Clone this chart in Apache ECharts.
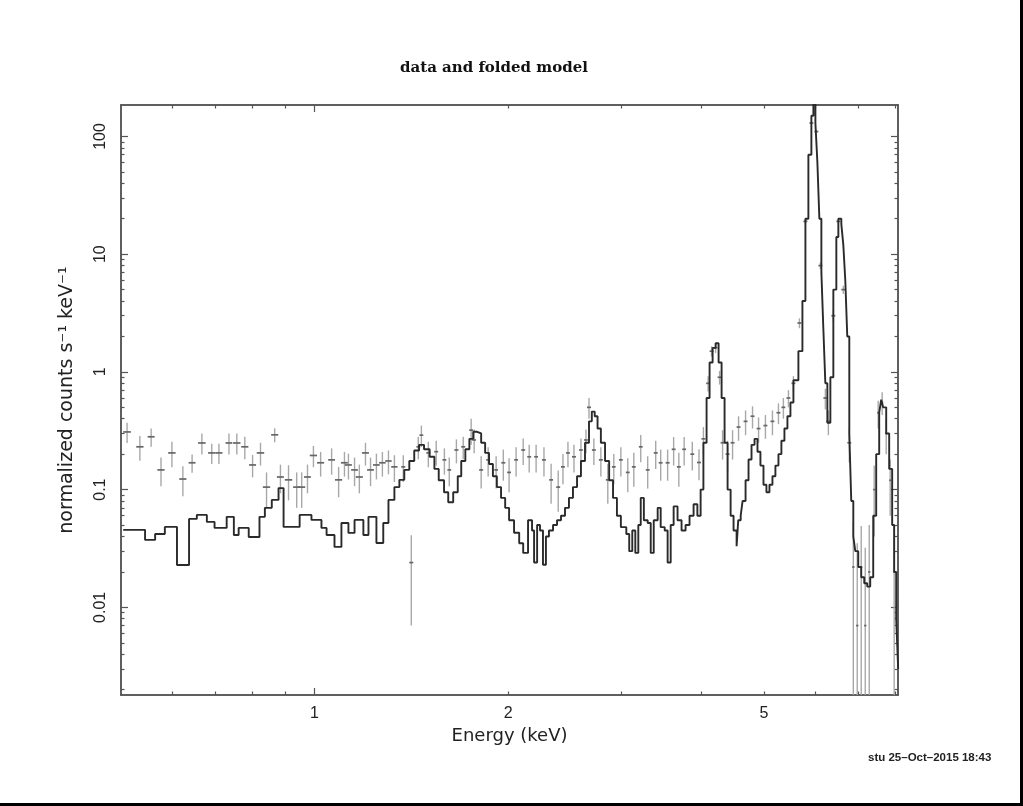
<!DOCTYPE html>
<html>
<head>
<meta charset="utf-8">
<script src="https://cdn.jsdelivr.net/npm/echarts@6/dist/echarts.min.js"></script>
<style>
html,body{margin:0;padding:0;background:#fff;}
#chart{width:1023px;height:806px;}
</style>
</head>
<body>
<div id="chart"></div>
<script>
// ---- axis ranges and tick labels ----
const X_MIN = 0.5, X_MAX = 8.08;
const Y_MIN = 0.0018, Y_MAX = 185;
const xLabelValues = [1, 2, 5];
const xMajorTicks = [1];
const xMinorTicks = [0.6, 0.7, 0.8, 0.9, 2, 3, 4, 5, 6, 7, 8];
const yLabelValues = [0.01, 0.1, 1, 10, 100];
const yDecades = [0.001, 0.01, 0.1, 1, 10, 100];
const yMinorMultipliers = [2, 3, 4, 5, 6, 7, 8, 9];

// ---- data points (energy keV, half bin width, rate, 1-sigma error) ----
const dataEnergy = [
 0.511,0.535,0.557,0.577,0.600,0.624,0.645,0.668,0.692,0.710,0.736,0.757,0.779,0.801,0.824,0.842,0.867,0.885,
 0.911,0.938,0.955,0.975,0.996,1.022,1.063,1.090,1.113,1.129,1.154,1.174,1.200,1.222,1.248,1.275,1.303,1.331,
 1.374,1.414,1.450,1.466,1.503,1.546,1.592,1.620,1.662,1.703,1.752,1.771,1.816,1.862,1.916,1.966,2.007,2.058,
 2.111,2.157,2.211,2.274,2.333,2.393,2.434,2.478,2.532,2.596,2.643,2.672,2.719,2.788,2.858,2.920,2.995,3.070,
 3.137,3.216,3.297,3.393,3.454,3.541,3.618,3.686,3.757,3.868,3.962,4.025,4.093,4.145,4.205,4.265,4.311,4.389,
 4.468,4.565,4.681,4.799,4.904,5.026,5.154,5.266,5.360,5.458,5.556,5.677,5.800,5.925,6.032,6.119,6.229,6.297,
 6.410,6.526,6.643,6.787,6.885,6.983,7.083,7.186,7.289,7.420,7.527,7.635,7.746,7.857,7.970
];
const dataHalfWidth = [
 0.007,0.007,0.007,0.0075,0.008,0.008,0.008,0.009,0.009,0.009,0.009,0.010,0.010,0.010,0.011,0.011,0.011,0.011,
 0.012,0.012,0.012,0.012,0.013,0.013,0.013,0.014,0.014,0.014,0.014,0.015,0.015,0.015,0.015,0.015,0.015,0.015,
 0.010,0.010,0.010,0.010,0.011,0.011,0.011,0.011,0.012,0.012,0.012,0.012,0.013,0.013,0.013,0.014,0.014,0.014,
 0.015,0.015,0.015,0.016,0.016,0.017,0.017,0.017,0.018,0.018,0.018,0.019,0.019,0.020,0.020,0.020,0.021,0.021,
 0.022,0.022,0.023,0.024,0.024,0.025,0.025,0.026,0.026,0.027,0.028,0.028,0.028,0.029,0.029,0.030,0.030,0.031,
 0.031,0.032,0.033,0.034,0.034,0.035,0.036,0.037,0.037,0.038,0.039,0.040,0.041,0.041,0.042,0.043,0.044,0.044,
 0.045,0.046,0.047,0.048,0.030,0.030,0.030,0.030,0.030,0.030,0.030,0.030,0.030,0.030,0.030
];
const dataRate = [
 0.309,0.231,0.281,0.147,0.205,0.123,0.169,0.249,0.205,0.205,0.249,0.249,0.231,0.162,0.205,0.105,0.292,0.128,
 0.121,0.105,0.105,0.128,0.195,0.169,0.179,0.121,0.169,0.162,0.147,0.128,0.205,0.147,0.162,0.169,0.175,0.156,
 0.156,0.024,0.231,0.290,0.205,0.210,0.179,0.147,0.217,0.231,0.320,0.264,0.147,0.179,0.147,0.169,0.140,0.179,
 0.217,0.190,0.190,0.179,0.121,0.105,0.156,0.205,0.190,0.217,0.264,0.500,0.217,0.179,0.121,0.156,0.179,0.140,
 0.156,0.231,0.147,0.205,0.169,0.169,0.220,0.156,0.220,0.200,0.170,0.270,0.800,1.500,1.600,0.900,0.250,0.200,
 0.250,0.340,0.380,0.420,0.330,0.350,0.380,0.450,0.500,0.600,0.800,2.600,19.0,130.0,110.0,8.0,0.600,0.380,
 3.0,19.0,5.0,0.250,0.022,0.007,0.022,0.007,0.020,0.100,0.450,0.550,0.300,0.120,0.020
];
const dataError = [
 0.060,0.055,0.050,0.040,0.050,0.035,0.030,0.050,0.040,0.040,0.050,0.050,0.050,0.035,0.045,0.035,0.040,0.035,
 0.040,0.035,0.035,0.035,0.040,0.040,0.045,0.035,0.040,0.040,0.040,0.035,0.045,0.040,0.040,0.040,0.040,0.040,
 0.040,0.017,0.050,0.060,0.050,0.050,0.045,0.040,0.050,0.050,0.080,0.060,0.045,0.050,0.045,0.050,0.045,0.050,
 0.055,0.050,0.050,0.050,0.045,0.040,0.045,0.050,0.050,0.055,0.060,0.100,0.055,0.050,0.045,0.045,0.050,0.045,
 0.050,0.060,0.045,0.055,0.050,0.050,0.060,0.050,0.060,0.055,0.050,0.070,0.120,0.150,0.150,0.120,0.070,0.060,
 0.070,0.080,0.090,0.090,0.080,0.080,0.090,0.090,0.100,0.100,0.120,0.250,0.800,3.0,3.0,0.500,0.120,0.090,
 0.300,0.800,0.400,0.080,0.030,0.028,0.027,0.025,0.030,0.060,0.120,0.120,0.100,0.060,0.030
];

// ---- folded model (bin lower edge keV, rate; last entry = upper edge) ----
const modelEnergy = [
 0.504,0.545,0.565,0.585,0.611,0.638,0.656,0.680,0.699,0.730,0.749,0.762,0.790,0.821,0.837,0.858,0.879,0.895,
 0.948,0.989,1.025,1.044,1.074,1.101,1.129,1.154,1.191,1.213,1.248,1.279,1.303,1.331,1.355,1.379,1.404,1.429,
 1.454,1.480,1.510,1.536,1.560,1.590,1.614,1.643,1.670,1.691,1.716,1.741,1.765,1.790,1.816,1.842,1.868,1.894,
 1.921,1.950,1.979,2.007,2.043,2.081,2.111,2.148,2.179,2.195,2.219,2.242,2.266,2.290,2.315,2.349,2.383,2.417,
 2.452,2.487,2.523,2.560,2.596,2.634,2.672,2.699,2.727,2.755,2.788,2.830,2.872,2.912,2.953,2.995,3.054,3.086,
 3.120,3.154,3.188,3.216,3.252,3.297,3.333,3.369,3.417,3.454,3.504,3.541,3.580,3.618,3.669,3.722,3.776,3.830,
 3.886,3.939,3.985,4.025,4.071,4.115,4.160,4.205,4.250,4.296,4.342,4.389,4.437,4.484,4.533,4.560,4.600,4.631,
 4.681,4.731,4.782,4.834,4.885,4.937,4.991,5.044,5.099,5.154,5.209,5.266,5.322,5.380,5.438,5.497,5.556,5.656,
 5.738,5.800,5.862,5.925,5.968,6.011,6.054,6.097,6.141,6.185,6.229,6.274,6.342,6.410,6.479,6.526,6.596,6.643,
 6.690,6.738,6.787,6.835,6.885,6.934,7.008,7.083,7.160,7.237,7.315,7.394,7.473,7.554,7.608,7.662,7.746,7.829,
 7.913,7.970,8.028,8.085
];
const modelRate = [
 0.0455,0.0374,0.0420,0.0482,0.0229,0.0564,0.0610,0.0532,0.0473,0.0587,0.0412,0.0473,0.0396,0.0587,0.0700,0.0818,0.1030,0.0482,
 0.0610,0.0553,0.0473,0.0412,0.0326,0.0521,0.0429,0.0553,0.0412,0.0587,0.0352,0.0521,0.0818,0.1050,0.1210,0.1470,0.1750,0.2150,
 0.2400,0.2200,0.1900,0.1500,0.1200,0.0950,0.0780,0.0950,0.1300,0.1750,0.2200,0.2700,0.3100,0.3000,0.2500,0.2050,0.1650,0.1300,
 0.1050,0.0850,0.0700,0.0550,0.0430,0.0350,0.0290,0.0550,0.0450,0.0240,0.0500,0.0450,0.0230,0.0400,0.0450,0.0500,0.0550,0.0600,
 0.0700,0.0850,0.1050,0.1300,0.1750,0.2500,0.3800,0.4600,0.4200,0.3300,0.2500,0.1750,0.1200,0.0850,0.0600,0.0480,0.0420,0.0300,
 0.0450,0.0290,0.0500,0.0850,0.0550,0.0520,0.0290,0.0550,0.0700,0.0480,0.0450,0.0240,0.0500,0.0720,0.0550,0.0450,0.0500,0.0600,
 0.0750,0.0600,0.1000,0.2500,0.6000,1.2000,1.6000,1.7500,1.2000,0.6000,0.2500,0.1000,0.0600,0.0450,0.0330,0.0550,0.0600,0.0800,
 0.1200,0.1800,0.2400,0.2700,0.2100,0.1600,0.1100,0.0950,0.1100,0.1300,0.1600,0.2000,0.2600,0.3300,0.4200,0.5500,0.8500,1.5000,
 4.0,20.0,70.0,150.0,200.0,130.0,60.0,20.0,7.0,2.3,0.80,0.37,0.90,5.0,14.0,20.0,18.0,12.0,
 6.0,2.0,0.30,0.080,0.040,0.030,0.022,0.018,0.016,0.015,0.018,0.060,0.200,0.450,0.580,0.500,0.300,0.150,
 0.050,0.020,0.008,0.003
];

// ---- build option ----
const yMinorTicks = [];
yDecades.forEach(d => yMinorMultipliers.forEach(m => {
  const v = +(d * m).toPrecision(6);
  if (v > Y_MIN && v < Y_MAX) yMinorTicks.push(v);
}));
const yMajorTicks = yLabelValues.slice();

const FRAME = '#555';
const FONT = '"Liberation Sans", Arial, sans-serif';
const NAME_FONT = '"DejaVu Sans", "Liberation Sans", sans-serif';

function xAxisDef(position, ticks, len, withLabels) {
  return {
    type: 'log', logBase: 10, min: X_MIN, max: X_MAX, position: position,
    axisLine: { show: true, onZero: false, lineStyle: { color: FRAME, width: 1.5 } },
    axisTick: { show: true, inside: true, length: len, customValues: ticks, lineStyle: { color: FRAME, width: 1.2 } },
    axisLabel: withLabels ? {
      show: true, customValues: xLabelValues, margin: 11,
      fontSize: 16, fontFamily: FONT, color: '#222',
      formatter: v => String(+(+v).toPrecision(6))
    } : { show: false },
    splitLine: { show: false }, minorTick: { show: false },
    name: withLabels ? 'Energy (keV)' : '',
    nameLocation: 'middle', nameGap: 32,
    nameTextStyle: { fontSize: 18, fontFamily: NAME_FONT, color: '#222' }
  };
}
function yAxisDef(position, ticks, len, withLabels) {
  return {
    type: 'log', logBase: 10, min: Y_MIN, max: Y_MAX, position: position,
    axisLine: { show: true, onZero: false, lineStyle: { color: FRAME, width: 1.5 } },
    axisTick: { show: true, inside: true, length: len, customValues: ticks, lineStyle: { color: FRAME, width: 1.2 } },
    axisLabel: withLabels ? {
      show: true, customValues: yLabelValues, margin: 12, rotate: 90,
      fontSize: 16, fontFamily: FONT, color: '#222',
      formatter: v => String(+(+v).toPrecision(6))
    } : { show: false },
    splitLine: { show: false }, minorTick: { show: false },
    name: withLabels ? 'normalized counts s\u207B\u00B9 keV\u207B\u00B9' : '',
    nameLocation: 'middle', nameGap: 44, nameRotate: 90,
    nameTextStyle: { fontSize: 19, fontFamily: NAME_FONT, color: '#222' }
  };
}

const pointData = dataEnergy.map((e, i) => [e, dataHalfWidth[i], dataRate[i], dataError[i]]);
const modelData = modelEnergy.map((e, i) => [e, modelRate[i]]);

const option = {
  animation: false,
  backgroundColor: '#fff',
  grid: { left: 121, right: 125, top: 105, bottom: 111, containLabel: false, outerBoundsMode: 'none' },
  xAxis: [
    xAxisDef('bottom', xMajorTicks, 7, true),
    xAxisDef('bottom', xMinorTicks, 3.5, false),
    xAxisDef('top', xMajorTicks, 7, false),
    xAxisDef('top', xMinorTicks, 3.5, false)
  ],
  yAxis: [
    yAxisDef('left', yMajorTicks, 7, true),
    yAxisDef('left', yMinorTicks, 3.5, false),
    yAxisDef('right', yMajorTicks, 7, false),
    yAxisDef('right', yMinorTicks, 3.5, false)
  ],
  graphic: [
    { type: 'text', left: 400, top: 61, style: { text: 'data and folded model', font: 'bold 15px "DejaVu Serif", serif', fill: '#111' } },
    { type: 'text', left: 868, top: 752, style: { text: 'stu 25\u2013Oct\u20132015 18:43', font: 'bold 11.5px "Liberation Sans", Arial, sans-serif', fill: '#222' } },
    { type: 'rect', shape: { x: 1020, y: 0, width: 3, height: 806 }, style: { fill: '#000' } },
    { type: 'rect', shape: { x: 0, y: 803, width: 1023, height: 3 }, style: { fill: '#000' } }
  ],
  series: [
    {
      type: 'custom', name: 'data', xAxisIndex: 0, yAxisIndex: 0, clip: true, z: 2,
      encode: { x: 0, y: 2 },
      data: pointData,
      renderItem: function (params, api) {
        const e = api.value(0), de = api.value(1), v = api.value(2), dv = api.value(3);
        const lo = Math.max(v - dv, Y_MIN * 0.05);
        const pT = api.coord([e, v + dv]);
        const pB = api.coord([e, lo]);
        const pL = api.coord([e - de, v]);
        const pR = api.coord([e + de, v]);
        return {
          type: 'group',
          children: [
            { type: 'line', shape: { x1: pT[0], y1: pT[1], x2: pB[0], y2: pB[1] }, style: { stroke: '#a8a8a8', lineWidth: 1.4 } },
            { type: 'line', shape: { x1: pL[0], y1: pL[1], x2: pR[0], y2: pR[1] }, style: { stroke: '#666', lineWidth: 1.7 } }
          ]
        };
      }
    },
    {
      type: 'line', name: 'model', xAxisIndex: 0, yAxisIndex: 0, z: 3,
      step: 'end', symbol: 'none', clip: true,
      data: modelData,
      lineStyle: { color: '#2a2a2a', width: 1.9 }
    }
  ]
};

const chart = echarts.init(document.getElementById('chart'), null, { renderer: 'canvas' });
chart.setOption(option);
</script>
</body>
</html>
